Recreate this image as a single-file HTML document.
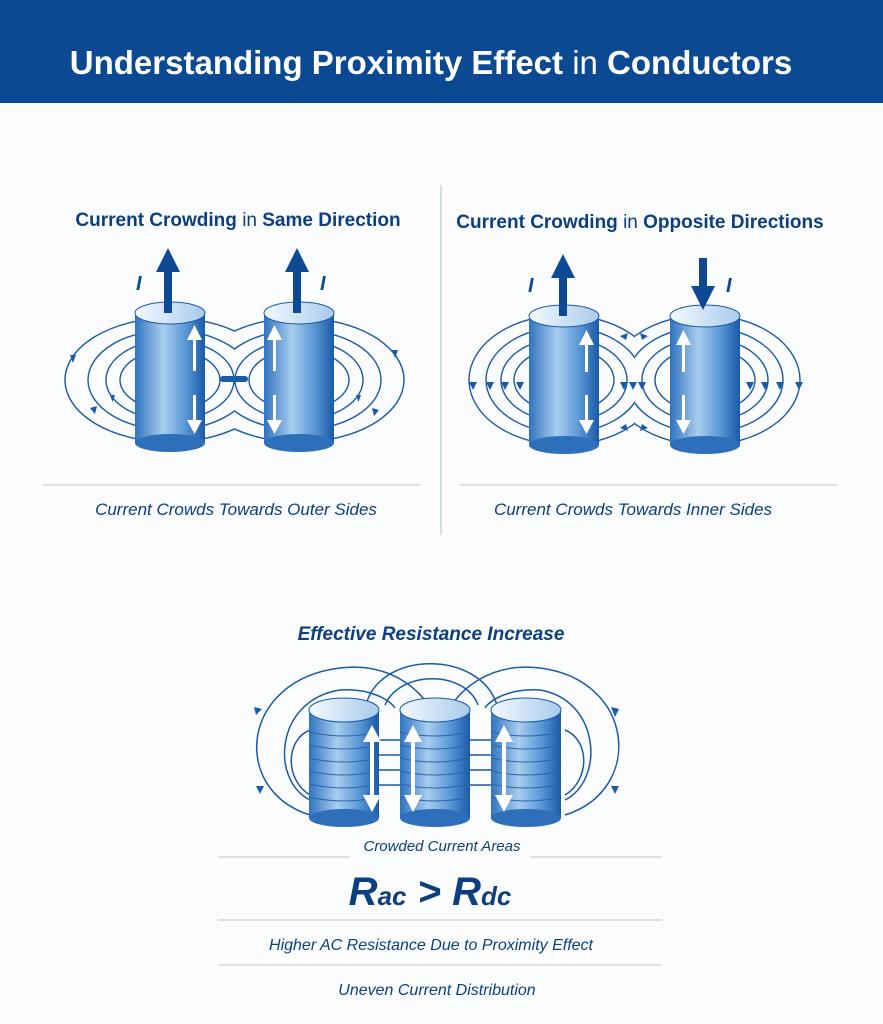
<!DOCTYPE html>
<html><head><meta charset="utf-8"><style>
body{margin:0;width:883px;height:1024px;background:#fbfcfd;overflow:hidden}
svg{display:block}
text{font-family:"Liberation Sans",sans-serif}
</style></head><body>
<svg width="883" height="1024" viewBox="0 0 883 1024" xmlns="http://www.w3.org/2000/svg">
<defs>
<linearGradient id="body" x1="0" x2="1" y1="0" y2="0">
<stop offset="0" stop-color="#2f73bf"/><stop offset="0.4" stop-color="#a9cdee"/><stop offset="0.7" stop-color="#5d9bd8"/><stop offset="1" stop-color="#1a5aa8"/></linearGradient>
<linearGradient id="top" x1="0" x2="1"><stop offset="0" stop-color="#f4f9fe"/><stop offset="1" stop-color="#a9cbec"/></linearGradient>
<clipPath id="cl1"><rect x="0" y="0" width="234.5" height="600"/></clipPath>
<clipPath id="cl2"><rect x="234.5" y="0" width="300" height="600"/></clipPath>
<clipPath id="cl3"><rect x="442" y="0" width="192" height="600"/></clipPath>
<clipPath id="cl4"><rect x="634" y="0" width="249" height="600"/></clipPath>
</defs>
<rect x="0" y="0" width="883" height="103" fill="#0b4a92"/>
<text x="431" y="74" font-size="33" fill="#fff" text-anchor="middle" font-weight="bold">Understanding Proximity Effect <tspan font-weight="normal">in</tspan> Conductors</text>
<line x1="441" y1="185" x2="441" y2="535" stroke="#c8d3df" stroke-width="1.5"/>
<text x="238" y="226" font-size="19" fill="#0d3f80" text-anchor="middle" font-weight="bold">Current Crowding <tspan font-weight="normal">in</tspan> Same Direction</text>
<text x="640" y="228" font-size="19" fill="#0d3f80" text-anchor="middle" font-weight="bold">Current Crowding <tspan font-weight="normal">in</tspan> Opposite Directions</text>
<g fill="none" stroke="#1a5aa8" stroke-width="1.4">
<g clip-path="url(#cl1)"><ellipse cx="170" cy="380" rx="105" ry="62"/><ellipse cx="170" cy="380" rx="82" ry="50"/><ellipse cx="170" cy="380" rx="64" ry="40"/><ellipse cx="170" cy="380" rx="50" ry="30"/></g>
<g clip-path="url(#cl2)"><ellipse cx="299" cy="380" rx="105" ry="62"/><ellipse cx="299" cy="380" rx="82" ry="50"/><ellipse cx="299" cy="380" rx="64" ry="40"/><ellipse cx="299" cy="380" rx="50" ry="30"/></g>
<g clip-path="url(#cl3)"><ellipse cx="564" cy="380" rx="95" ry="65"/><ellipse cx="564" cy="380" rx="78" ry="53"/><ellipse cx="564" cy="380" rx="63" ry="42"/><ellipse cx="564" cy="380" rx="50" ry="32"/></g>
<g clip-path="url(#cl4)"><ellipse cx="705" cy="380" rx="95" ry="65"/><ellipse cx="705" cy="380" rx="78" ry="53"/><ellipse cx="705" cy="380" rx="63" ry="42"/><ellipse cx="705" cy="380" rx="50" ry="32"/></g>
</g>
<g fill="#1a5aa8">
<path d="M70,355 l6,0 -3,8z"/><path d="M90,408 l7,-2 -2,8z"/><path d="M110,395 l5,0 -2.5,7z"/>
<path d="M392,350 l6,0 -3,8z"/><path d="M372,408 l7,2 -5,6z"/><path d="M356,395 l5,0 -2.5,7z"/>
<rect x="220" y="376" width="28" height="6" rx="3"/>
<g transform="translate(0,382)"><path d="M469,0 l8,0 -4,8z"/><path d="M486,0 l8,0 -4,8z"/><path d="M501,0 l8,0 -4,8z"/><path d="M516,0 l8,0 -4,8z"/><path d="M620,0 l8,0 -4,8z"/><path d="M629,0 l8,0 -4,8z"/><path d="M638,0 l8,0 -4,8z"/><path d="M746,0 l8,0 -4,8z"/><path d="M761,0 l8,0 -4,8z"/><path d="M776,0 l8,0 -4,8z"/><path d="M795,0 l8,0 -4,8z"/></g>
<path d="M620,336 l8,-3 -2,7z"/><path d="M648,336 l-8,-3 2,7z"/><path d="M620,428 l8,3 -2,-7z"/><path d="M648,428 l-8,3 2,-7z"/>
</g>
<g>
<rect x="135" y="313" width="70" height="130" fill="url(#body)"/><ellipse cx="170" cy="443" rx="35" ry="9" fill="#2e6fbb"/><ellipse cx="170" cy="313" rx="35" ry="11" fill="url(#top)" stroke="#1a5aa8"/>
<rect x="264" y="313" width="70" height="130" fill="url(#body)"/><ellipse cx="299" cy="443" rx="35" ry="9" fill="#2e6fbb"/><ellipse cx="299" cy="313" rx="35" ry="11" fill="url(#top)" stroke="#1a5aa8"/>
<rect x="529" y="316" width="70" height="129" fill="url(#body)"/><ellipse cx="564" cy="445" rx="35" ry="9" fill="#2e6fbb"/><ellipse cx="564" cy="316" rx="35" ry="11" fill="url(#top)" stroke="#1a5aa8"/>
<rect x="670" y="316" width="70" height="129" fill="url(#body)"/><ellipse cx="705" cy="445" rx="35" ry="9" fill="#2e6fbb"/><ellipse cx="705" cy="316" rx="35" ry="11" fill="url(#top)" stroke="#1a5aa8"/>
</g>
<g fill="#0d4a93">
<rect x="164" y="268" width="8" height="45"/><path d="M156,272 L168,248 L180,272z"/>
<rect x="293" y="268" width="8" height="45"/><path d="M285,272 L297,248 L309,272z"/>
<rect x="559" y="274" width="8" height="42"/><path d="M551,278 L563,254 L575,278z"/>
<rect x="699" y="258" width="8" height="30"/><path d="M691,286 L703,310 L715,286z"/>
</g>
<g font-size="20" font-weight="bold" font-style="italic" fill="#0d4a93">
<text x="136" y="290">I</text><text x="320" y="290">I</text><text x="528" y="292">I</text><text x="726" y="292">I</text></g>
<g fill="#fff">
<rect x="193" y="335" width="3" height="36"/><path d="M187,340 L194.5,325 L202,340z"/><rect x="193" y="395" width="3" height="30"/><path d="M187,420 L194.5,434 L202,420z"/>
<rect x="273" y="335" width="3" height="36"/><path d="M267,340 L274.5,325 L282,340z"/><rect x="273" y="395" width="3" height="30"/><path d="M267,420 L274.5,434 L282,420z"/>
<rect x="585" y="340" width="3" height="32"/><path d="M579,345 L586.5,330 L594,345z"/><rect x="585" y="395" width="3" height="30"/><path d="M579,420 L586.5,434 L594,420z"/>
<rect x="682" y="340" width="3" height="32"/><path d="M676,345 L683.5,330 L691,345z"/><rect x="682" y="395" width="3" height="30"/><path d="M676,420 L683.5,434 L691,420z"/>
</g>
<line x1="43" y1="485" x2="420" y2="485" stroke="#c8d3df" stroke-width="1.3"/>
<line x1="460" y1="485" x2="838" y2="485" stroke="#c8d3df" stroke-width="1.3"/>
<text x="236" y="515" font-size="17" font-style="italic" fill="#0d3f80" text-anchor="middle">Current Crowds Towards Outer Sides</text>
<text x="633" y="515" font-size="17" font-style="italic" fill="#0d3f80" text-anchor="middle">Current Crowds Towards Inner Sides</text>
<text x="431" y="640" font-size="19" font-style="italic" font-weight="bold" fill="#0d3f80" text-anchor="middle">Effective Resistance Increase</text>
<g fill="none" stroke="#1a5aa8" stroke-width="1.5">
<path d="M310,815 C230,790 240,680 340,668 C390,662 420,690 430,708"/>
<path d="M310,800 C270,780 275,700 340,690 C370,688 390,700 395,708"/>
<path d="M565,815 C645,790 635,680 540,668 C490,662 460,690 450,708"/>
<path d="M565,800 C605,780 600,700 540,690 C510,688 490,700 485,708"/>
<path d="M366,705 C380,650 480,650 497,705"/><path d="M385,705 C400,670 465,670 478,705"/>
<path d="M310,795 C285,780 285,740 310,730"/><path d="M565,795 C590,780 590,740 565,730"/>
<path d="M378,740 L400,740 M378,755 L400,755 M378,770 L400,770 M378,785 L400,785 M470,740 L491,740 M470,755 L491,755 M470,770 L491,770 M470,785 L491,785"/>
</g>
<g fill="#1a5aa8"><path d="M254,707 l8,2 -6,6z"/><path d="M256,786 l8,0 -4,8z"/><path d="M611,707 l8,2 -4,8z"/><path d="M611,786 l8,0 -4,8z"/></g>
<g>
<rect x="309" y="710" width="70" height="108" fill="url(#body)"/><ellipse cx="344" cy="818" rx="35" ry="9" fill="#2e6fbb"/>
<rect x="400" y="710" width="70" height="108" fill="url(#body)"/><ellipse cx="435" cy="818" rx="35" ry="9" fill="#2e6fbb"/>
<rect x="491" y="710" width="70" height="108" fill="url(#body)"/><ellipse cx="526" cy="818" rx="35" ry="9" fill="#2e6fbb"/>
<g fill="none" stroke="#2b65ad" stroke-width="1">
<path d="M309,732 q35,8 70,0 M309,745 q35,8 70,0 M309,758 q35,8 70,0 M309,771 q35,8 70,0 M309,784 q35,8 70,0 M309,797 q35,8 70,0"/>
<path d="M400,732 q35,8 70,0 M400,745 q35,8 70,0 M400,758 q35,8 70,0 M400,771 q35,8 70,0 M400,784 q35,8 70,0 M400,797 q35,8 70,0"/>
<path d="M491,732 q35,8 70,0 M491,745 q35,8 70,0 M491,758 q35,8 70,0 M491,771 q35,8 70,0 M491,784 q35,8 70,0 M491,797 q35,8 70,0"/>
</g>
<ellipse cx="344" cy="710" rx="35" ry="12" fill="url(#top)" stroke="#1a5aa8"/>
<ellipse cx="435" cy="710" rx="35" ry="12" fill="url(#top)" stroke="#1a5aa8"/>
<ellipse cx="526" cy="710" rx="35" ry="12" fill="url(#top)" stroke="#1a5aa8"/>
</g>
<g fill="#fff">
<rect x="370" y="738" width="4" height="60"/><path d="M363,742 L372,725 L381,742z"/><path d="M363,795 L372,812 L381,795z"/>
<rect x="411" y="738" width="4" height="60"/><path d="M404,742 L413,725 L422,742z"/><path d="M404,795 L413,812 L422,795z"/>
<rect x="502" y="738" width="4" height="60"/><path d="M495,742 L504,725 L513,742z"/><path d="M495,795 L504,812 L513,795z"/>
</g>
<text x="442" y="851" font-size="15" font-style="italic" fill="#0d3f80" text-anchor="middle">Crowded Current Areas</text>
<g stroke="#c8d3df" stroke-width="1.3"><line x1="218" y1="857" x2="350" y2="857"/><line x1="530" y1="857" x2="662" y2="857"/><line x1="218" y1="920" x2="662" y2="920"/><line x1="218" y1="965" x2="662" y2="965"/></g>
<text x="430" y="905" font-size="40" font-style="italic" font-weight="bold" fill="#0d3f80" text-anchor="middle">R<tspan font-size="26">ac</tspan> &gt; R<tspan font-size="26">dc</tspan></text>
<text x="431" y="950" font-size="16" font-style="italic" fill="#0d3f80" text-anchor="middle">Higher AC Resistance Due to Proximity Effect</text>
<text x="437" y="995" font-size="16" font-style="italic" fill="#0d3f80" text-anchor="middle">Uneven Current Distribution</text>
</svg>
</body></html>
